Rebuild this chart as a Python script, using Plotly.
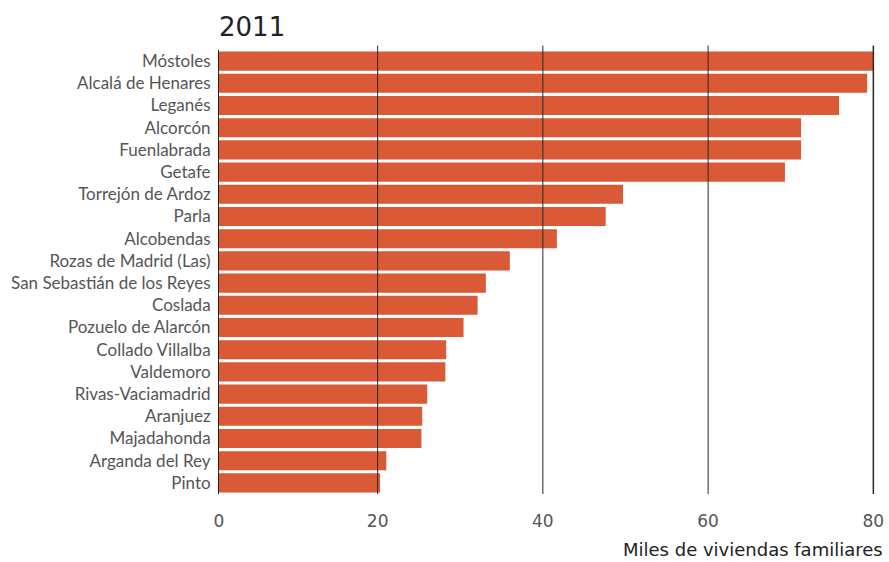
import plotly.graph_objects as go

municipios = [
    "Móstoles", "Alcalá de Henares", "Leganés", "Alcorcón", "Fuenlabrada",
    "Getafe", "Torrejón de Ardoz", "Parla", "Alcobendas", "Rozas de Madrid (Las)",
    "San Sebastián de los Reyes", "Coslada", "Pozuelo de Alarcón", "Collado Villalba",
    "Valdemoro", "Rivas-Vaciamadrid", "Aranjuez", "Majadahonda", "Arganda del Rey", "Pinto",
]
viviendas_miles = [
    80.0, 79.25, 75.85, 71.25, 71.25,
    69.3, 49.7, 47.6, 41.7, 36.0,
    33.1, 32.1, 30.4, 28.3, 28.2,
    26.0, 25.4, 25.3, 21.05, 20.3,
]
tick_vals = [0.8, 20, 40, 60, 80]
tick_text = ["0", "20", "40", "60", "80"]
grid_vals = [20, 40, 60, 80]

BAR = "#DA5936"

W, H = 889, 562
L, R, T, B = 219, 14, 50, 68
PW = W - L - R
PH = H - T - B

fig = go.Figure(go.Bar(
    x=viviendas_miles, y=municipios, orientation="h",
    marker=dict(color=BAR, line=dict(width=0)),
    hoverinfo="x+y",
))

for g in grid_vals:
    fig.add_shape(type="line", xref="x", yref="paper", x0=g, x1=g, y0=0, y1=1.01,
                  line=dict(color="#2a2a2a", width=1.5 if g == 80 else 1), layer="above")

fig.update_layout(
    width=W, height=H,
    margin=dict(l=L, r=R, t=T, b=B),
    paper_bgcolor="white", plot_bgcolor="white",
    bargap=0.14,
    showlegend=False,
    title=dict(text="2011", x=0, xref="paper", xanchor="left", y=1 - 27 / H, yanchor="middle",
               font=dict(family="DejaVu Sans", size=26, color="#222")),
    xaxis=dict(range=[0.8, 80.2], tickvals=tick_vals, ticktext=tick_text, showgrid=False,
               zeroline=False, showline=False, ticks="", ticklabelstandoff=15, automargin=False,
               tickfont=dict(family="DejaVu Sans", size=17, color="#555"), fixedrange=True),
    yaxis=dict(autorange="reversed", showgrid=False, zeroline=False, showline=True,
               linecolor="#222", linewidth=1, ticks="", ticklabelstandoff=4, automargin=False,
               tickfont=dict(family="Lato", size=17, color="#555"), fixedrange=True),
    annotations=[dict(text="Miles de viviendas familiares", xref="paper", yref="paper",
                      x=(885 - L) / PW, y=-55 / PH, xanchor="right", yanchor="middle",
                      showarrow=False, font=dict(family="DejaVu Sans", size=18, color="#222"))],
)

fig.write_html("out.html", config={"displayModeBar": False},
               post_script="document.body.style.margin='0';document.body.style.overflow='hidden';")
